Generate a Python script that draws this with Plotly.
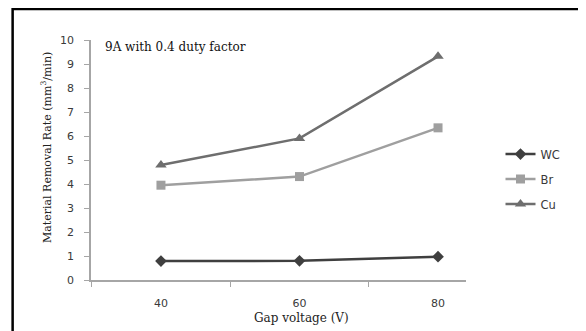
import plotly.graph_objects as go

voltages = [40, 60, 80]
wc = [0.79, 0.80, 0.97]
br = [3.95, 4.31, 6.34]
cu = [4.79, 5.90, 9.32]
series_names = ["WC", "Br", "Cu"]
y_ticks = list(range(0, 11))

fig = go.Figure()
styles = [
    (wc, "#3f3f3f", "diamond", 9),
    (br, "#9f9f9f", "square", 9),
    (cu, "#6e6e6e", "triangle-up", 10),
]
for i, (vals, col, sym, sz) in enumerate(styles):
    fig.add_trace(go.Scatter(
        x=voltages, y=vals, name=series_names[i], mode="lines+markers",
        line=dict(color=col, width=2.5),
        marker=dict(symbol=sym, size=sz, color=col),
        legendgroup=series_names[i],
    ))

sans = "DejaVu Sans, sans-serif"
serif = "DejaVu Serif, serif"
tick_col = "#3a3a3a"

fig.update_layout(
    width=578, height=323,
    margin=dict(l=83, r=120, t=32, b=51),
    paper_bgcolor="white", plot_bgcolor="white",
    showlegend=True,
    legend=dict(x=1.092, y=0.585, xanchor="left", yanchor="top",
                font=dict(family=sans, size=11.5, color=tick_col),
                tracegroupgap=6, itemwidth=30, bgcolor="rgba(0,0,0,0)"),
    xaxis=dict(
        range=[29.9, 84.04], tickvals=voltages, ticktext=[str(v) for v in voltages],
        ticks="", showgrid=False, zeroline=False,
        showline=True, linecolor="#a6a6a6", linewidth=1.5,
        tickfont=dict(family=sans, size=11, color=tick_col),
        ticklabelstandoff=12,
        minor=dict(tickvals=[30, 50, 70], ticks="outside", ticklen=5, tickcolor="#a6a6a6", showgrid=False),
    ),
    yaxis=dict(
        range=[0, 10], tickvals=y_ticks, ticks="outside", ticklen=5, tickcolor="#a6a6a6",
        showgrid=False, zeroline=False,
        showline=True, linecolor="#a6a6a6", linewidth=1.5,
        tickfont=dict(family=sans, size=11, color=tick_col),
        ticklabelstandoff=8,
    ),
    annotations=[
        dict(text="9A with 0.4 duty factor", xref="paper", yref="paper",
             x=0.032, y=0.97, xanchor="left", yanchor="middle", showarrow=False,
             font=dict(family=serif, size=12, color="#111")),
        dict(text="Material Removal Rate (mm<sup>3</sup>/min)", xref="paper", yref="paper",
             x=-0.12, y=0.55, xanchor="center", yanchor="middle", showarrow=False,
             textangle=-90, font=dict(family=serif, size=11, color="#222")),
        dict(text="Gap voltage (V)", xref="paper", yref="paper",
             x=0.56, y=-0.158, xanchor="center", yanchor="middle", showarrow=False,
             font=dict(family=serif, size=12, color="#222")),
    ],
    shapes=[dict(
        type="rect", xref="paper", yref="paper",
        x0=-0.209, x1=2.0, y0=-1.0, y1=1.129,
        line=dict(color="black", width=2.5), fillcolor="rgba(0,0,0,0)", layer="above",
    )],
)

fig.write_html("out.html")
